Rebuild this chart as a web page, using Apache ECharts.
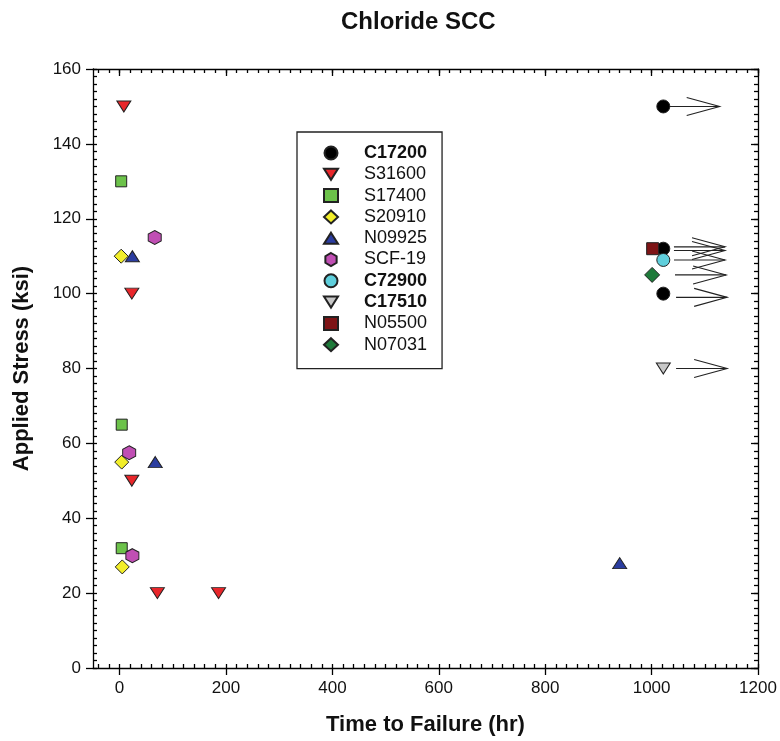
<!DOCTYPE html>
<html>
<head>
<meta charset="utf-8">
<script src="https://cdn.jsdelivr.net/npm/echarts@6/dist/echarts.min.js"></script>
<style>
html,body{margin:0;padding:0;background:#fff;}
#chart{width:780px;height:741px;}
</style>
</head>
<body>
<div id="chart"></div>
<script>
// ---- data ----
const chartTitle = 'Chloride SCC';
const xName = 'Time to Failure (hr)';
const yName = 'Applied Stress (ksi)';
const xTicks = [0, 200, 400, 600, 800, 1000, 1200];
const yTicks = [0, 20, 40, 60, 80, 100, 120, 140, 160];

const C17200 = [[1022, 150], [1022, 112], [1022, 100]];
const S31600 = [[8, 150], [23, 100], [23, 50], [71, 20], [186, 20]];
const S17400 = [[3, 130], [4, 65], [4, 32]];
const S20910 = [[3, 110], [4, 55], [5, 27]];
const N09925 = [[24, 110], [67, 55], [940, 28]];
const SCF19 = [[66, 115], [18, 57.5], [24, 30]];
const C72900 = [[1022, 109]];
const C17510 = [[1022, 80]];
const N05500 = [[1002, 112]];
const N07031 = [[1001, 105]];
// run-out arrows: [start x, end x, stress]
const arrows = [[1032, 1128, 150], [1042, 1138, 112.5], [1042, 1138, 111.5], [1042, 1138, 109], [1044, 1140, 105], [1046, 1142, 99], [1046, 1142, 80]];

// ---- chart ----
const xMinor = []; for (let v = -40; v <= 1200; v += 20) xMinor.push(v);
const yMinor = []; for (let v = 0; v <= 160; v += 2) yMinor.push(v);

const FONT = '"Liberation Sans", Arial, sans-serif';
const lineStyle = { color: '#000', width: 1.3 };

function xAxis(pos, major, show) {
  return {
    type: 'value', position: pos, min: -50, max: 1200,
    axisLine: { show: show, onZero: false, lineStyle: lineStyle },
    axisTick: { show: true, inside: pos === 'top' || !major, length: major ? 7 : 4,
      customValues: major ? xTicks : xMinor, lineStyle: lineStyle },
    axisLabel: { show: pos === 'bottom' && major, customValues: xTicks, formatter: v => String(v),
      fontSize: 17, color: '#111', fontFamily: FONT, margin: 12 },
    splitLine: { show: false },
    name: (pos === 'bottom' && major) ? xName : '',
    nameLocation: 'middle', nameGap: 46,
    nameTextStyle: { fontSize: 22, fontWeight: 'bold', color: '#111', fontFamily: FONT }
  };
}
function yAxis(pos, major, show) {
  return {
    type: 'value', position: pos, min: 0, max: 160,
    axisLine: { show: show, onZero: false, lineStyle: lineStyle },
    axisTick: { show: true, inside: pos === 'right' || !major, length: major ? 7 : 4,
      customValues: major ? yTicks : yMinor, lineStyle: lineStyle },
    axisLabel: { show: pos === 'left' && major, customValues: yTicks, formatter: v => String(v),
      fontSize: 17, color: '#111', fontFamily: FONT, margin: 12 },
    splitLine: { show: false },
    name: (pos === 'left' && major) ? yName : '',
    nameLocation: 'middle', nameGap: 60,
    nameTextStyle: { fontSize: 22, fontWeight: 'bold', color: '#111', fontFamily: FONT }
  };
}

const HEX = 'path://M0,-10 L8.66,-5 L8.66,5 L0,10 L-8.66,5 L-8.66,-5 Z';
const DOWN = 'path://M0,0 L14,0 L7,11 Z';
const UP = 'path://M7,0 L14,11 L0,11 Z';
const border = { borderColor: '#222', borderWidth: 1 };

function sc(name, data, symbol, size, color) {
  return {
    name: name, type: 'scatter', data: data, symbol: symbol, symbolSize: size,
    itemStyle: Object.assign({ color: color, opacity: 1 }, border), z: 3
  };
}

const series = [
  {
    type: 'custom', name: 'arrows', data: arrows, z: 2, silent: true,
    encode: { x: [0, 1], y: 2 },
    renderItem: function (params, api) {
      const p0 = api.coord([api.value(0), api.value(2)]);
      const p1 = api.coord([api.value(1), api.value(2)]);
      const st = { stroke: '#222', lineWidth: 1.1, fill: null };
      return {
        type: 'group', children: [
          { type: 'line', shape: { x1: p0[0], y1: p0[1], x2: p1[0], y2: p1[1] }, style: st },
          { type: 'polyline', shape: { points: [[p1[0] - 33, p1[1] - 9], [p1[0], p1[1]], [p1[0] - 33, p1[1] + 9]] }, style: st }
        ]
      };
    }
  },
  sc('C17200', C17200, 'circle', 13, '#000000'),
  sc('S31600', S31600, DOWN, [14, 11], '#e8262a'),
  sc('S17400', S17400, 'rect', 11, '#6cc24a'),
  sc('S20910', S20910, 'diamond', 14, '#f2ee2a'),
  sc('N09925', N09925, UP, [14, 11], '#2b3da0'),
  sc('SCF-19', SCF19, HEX, [13, 14], '#c04fb4'),
  sc('C72900', C72900, 'circle', 13, '#5fcfdc'),
  sc('C17510', C17510, DOWN, [14, 11], '#c8c8c8'),
  sc('N05500', N05500, 'rect', 12, '#7e1416'),
  sc('N07031', N07031, 'diamond', 15, '#1e7a3a')
];

const boldNames = ['C17200', 'C72900', 'C17510'];
const legendNames = ['C17200', 'S31600', 'S17400', 'S20910', 'N09925', 'SCF-19', 'C72900', 'C17510', 'N05500', 'N07031'];

const option = {
  animation: false,
  backgroundColor: '#fff',
  title: {
    text: chartTitle, left: 336, top: 5,
    textStyle: { fontSize: 24, fontWeight: 'bold', color: '#111', fontFamily: FONT }
  },
  grid: { left: 93, right: 22, top: 69, bottom: 73, containLabel: false },
  xAxis: [xAxis('bottom', true, true), xAxis('bottom', false, false), xAxis('top', true, true), xAxis('top', false, false)],
  yAxis: [yAxis('left', true, true), yAxis('left', false, false), yAxis('right', true, true), yAxis('right', false, false)],
  legend: {
    orient: 'vertical', left: 297, top: 132,
    backgroundColor: '#fff', borderColor: '#222', borderWidth: 1.3,
    padding: [12, 15, 15, 26],
    itemWidth: 14, itemHeight: 13, itemGap: 3.3, symbolKeepAspect: true,
    textStyle: { fontSize: 18, lineHeight: 18, color: '#111', fontFamily: FONT, padding: [0, 0, 0, 21] },
    data: legendNames.map(n => boldNames.includes(n) ? { name: n, textStyle: { fontWeight: 'bold' } } : { name: n })
  },
  series: series
};

const chart = echarts.init(document.getElementById('chart'), null, { renderer: 'canvas' });
chart.setOption(option);
</script>
</body>
</html>
